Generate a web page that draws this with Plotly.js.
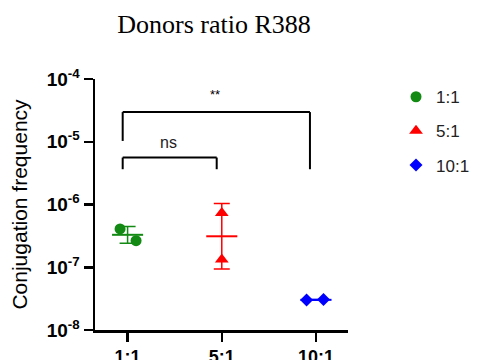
<!DOCTYPE html>
<html>
<head>
<meta charset="utf-8">
<script src="https://cdn.plot.ly/plotly-3.0.1.min.js"></script>
<style>html,body{margin:0;padding:0;background:#fff}#chart{width:480px;height:360px}</style>
</head>
<body>
<div id="chart"></div>
<script>
// ---- data ----
const categories = ['1:1', '5:1', '10:1'];
const ratio1to1 = [4.08e-7, 2.65e-7];
const ratio5to1 = [7.3e-7, 1.33e-7];
const ratio10to1 = [3.0e-8, 3.05e-8];
const yTickVals = [1e-8, 1e-7, 1e-6, 1e-5, 1e-4];
const yTickText = yTickVals.map(v => '10<sup>' + Math.round(Math.log10(v)) + '</sup>');

// ---- styles ----
const groups = [
  {name: categories[0], vals: ratio1to1, color: '#138a13', symbol: 'circle', size: 11, jitter: [-0.08, 0.09]},
  {name: categories[1], vals: ratio5to1, color: '#ff0000', symbol: 'triangle-up', size: 12, jitter: [0, 0]},
  {name: categories[2], vals: ratio10to1, color: '#0000ff', symbol: 'diamond', size: 10, jitter: [-0.1, 0.08]}
];

function geoStats(v) {
  const l = v.map(Math.log10);
  const m = l.reduce((a, b) => a + b, 0) / l.length;
  const s = Math.sqrt(l.reduce((a, b) => a + (b - m) * (b - m), 0) / (l.length - 1));
  return {mean: Math.pow(10, m), hi: Math.pow(10, m + s), lo: Math.pow(10, m - s)};
}

const traces = [];
groups.forEach((g, gi) => {
  const st = geoStats(g.vals);
  traces.push({
    type: 'scatter', mode: 'lines', x: [gi - 0.165, gi + 0.165], y: [st.mean, st.mean],
    line: {color: g.color, width: 2}, showlegend: false, hoverinfo: 'skip'
  });
  traces.push({
    type: 'scatter', mode: 'markers', x: [gi], y: [st.mean],
    marker: {size: 1, color: 'rgba(0,0,0,0)'},
    error_y: {type: 'data', symmetric: false, array: [st.hi - st.mean], arrayminus: [st.mean - st.lo],
              color: g.color, thickness: 1.5, width: 8},
    showlegend: false, hoverinfo: 'skip'
  });
  traces.push({
    type: 'scatter', mode: 'markers', name: g.name, legendgroup: g.name,
    x: g.vals.map((v, i) => gi + g.jitter[i]), y: g.vals,
    marker: {color: g.color, symbol: g.symbol, size: g.size}
  });
});

const k = 'black';
const brackets = [
  [[-0.052, 1.03e-5], [-0.052, 2.97e-5], [1.936, 2.97e-5], [1.936, 3.65e-6]],
  [[-0.052, 3.65e-6], [-0.052, 5.6e-6], [0.946, 5.6e-6], [0.946, 3.65e-6]]
];
const shapes = brackets.map(p => {
  const segs = [];
  for (let i = 0; i < p.length - 1; i++) {
    segs.push({type: 'line', xref: 'x', yref: 'y', x0: p[i][0], y0: p[i][1], x1: p[i+1][0], y1: p[i+1][1],
               line: {color: k, width: 2}});
  }
  return segs;
}).flat();

const layout = {
  width: 480, height: 360,
  margin: {l: 95, r: 132, t: 79, b: 30},
  paper_bgcolor: '#fff', plot_bgcolor: '#fff',
  title: {text: 'Donors ratio R388', font: {family: 'Liberation Serif, serif', size: 26, color: '#000'},
          xref: 'container', x: 0.446, xanchor: 'center', yref: 'container', y: 0.933, yanchor: 'middle'},
  xaxis: {
    range: [-0.346, 2.34], tickvals: [0, 1, 2], ticktext: categories,
    showline: true, linecolor: k, linewidth: 2.5, ticks: 'outside', ticklen: 9, tickwidth: 2.5, tickcolor: k,
    showgrid: false, zeroline: false,
    tickfont: {family: 'Liberation Sans, Arial, sans-serif', size: 18, color: '#000', weight: 'bold'}
  },
  yaxis: {
    type: 'log', range: [-8, -4], tickvals: yTickVals, ticktext: yTickText,
    showline: true, linecolor: k, linewidth: 2.5, ticks: 'outside', ticklen: 9, tickwidth: 2.5, tickcolor: k,
    showgrid: false, zeroline: false,
    tickfont: {family: 'Liberation Sans, Arial, sans-serif', size: 19, color: '#000', weight: 'bold'},
    title: {text: 'Conjugation frequency', standoff: 14,
            font: {family: 'Liberation Sans, Arial, sans-serif', size: 21, color: '#000'}}
  },
  showlegend: true,
  legend: {
    xref: 'container', x: 0.825, xanchor: 'left', yref: 'container', y: 0.78, yanchor: 'top',
    traceorder: 'grouped', tracegroupgap: 9,
    font: {family: 'Liberation Sans, Arial, sans-serif', size: 17, color: '#222'},
    bgcolor: 'rgba(0,0,0,0)'
  },
  shapes: shapes,
  annotations: [
    {xref: 'x', yref: 'y', x: 0.93, y: -4.252, text: '**', showarrow: false,
     font: {family: 'Liberation Sans, Arial, sans-serif', size: 13, color: '#000'}},
    {xref: 'x', yref: 'y', x: 0.432, y: -5.013, text: 'ns', showarrow: false,
     font: {family: 'Liberation Sans, Arial, sans-serif', size: 16, color: '#222'}}
  ]
};

Plotly.newPlot('chart', traces, layout, {staticPlot: true, displayModeBar: false});
</script>
</body>
</html>
